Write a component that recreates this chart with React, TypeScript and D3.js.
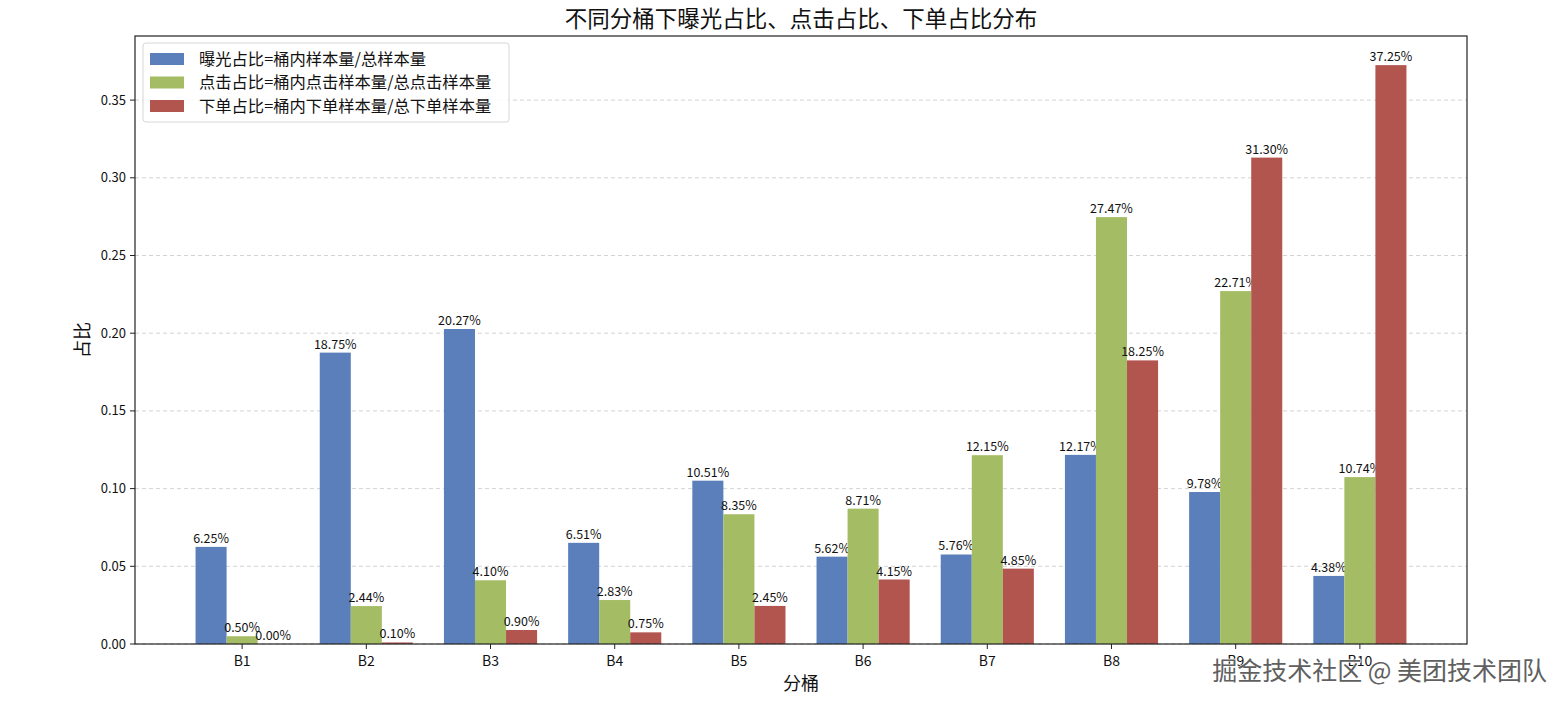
import React, { useEffect, useRef } from 'react';
import * as d3 from 'd3';

const buckets = ['B1', 'B2', 'B3', 'B4', 'B5', 'B6', 'B7', 'B8', 'B9', 'B10'];
const exposureShare = [0.0625, 0.1875, 0.2027, 0.0651, 0.1051, 0.0562, 0.0576, 0.1217, 0.0978, 0.0438];
const clickShare = [0.005, 0.0244, 0.041, 0.0283, 0.0835, 0.0871, 0.1215, 0.2747, 0.2271, 0.1074];
const orderShare = [0.0, 0.001, 0.009, 0.0075, 0.0245, 0.0415, 0.0485, 0.1825, 0.313, 0.3725];
const seriesNames = [
  '曝光占比=桶内样本量/总样本量',
  '点击占比=桶内点击样本量/总点击样本量',
  '下单占比=桶内下单样本量/总下单样本量',
];
const yTicks = [0, 0.05, 0.1, 0.15, 0.2, 0.25, 0.3, 0.35];

const FONT = '"Noto Sans CJK SC", "DejaVu Sans", sans-serif';

const App = () => {
  const ref = useRef<SVGSVGElement>(null);

  useEffect(() => {
    if (!ref.current) return;
    const svg = d3.select(ref.current);
    svg.selectAll('*').remove();

    const W = 1568;
    const H = 706;
    const left = 135, right = 1467, top = 36, bottom = 644;
    const barW = 0.25;
    const colors = ['#5b7fba', '#a4bd64', '#b3554f'];
    const series = [exposureShare, clickShare, orderShare];

    const x = d3.scaleLinear().domain([-0.8625, buckets.length - 1 + 0.8625]).range([left, right]);
    const y = d3.scaleLinear().domain([0, 0.39125]).range([bottom, top]);

    svg.append('rect').attr('width', W).attr('height', H).attr('fill', '#fff');

    // grid
    svg.append('g')
      .selectAll('line')
      .data(yTicks)
      .enter()
      .append('line')
      .attr('x1', left)
      .attr('x2', right)
      .attr('y1', d => y(d))
      .attr('y2', d => y(d))
      .attr('stroke', '#c8c8c8')
      .attr('stroke-width', 0.8)
      .attr('stroke-dasharray', '4,3');

    // bars + value labels
    series.forEach((vals, si) => {
      const off = (si - 1) * barW;
      const g = svg.append('g');
      g.selectAll('rect')
        .data(vals)
        .enter()
        .append('rect')
        .attr('x', (d, i) => x(i + off - barW / 2))
        .attr('width', x(barW) - x(0))
        .attr('y', d => y(d))
        .attr('height', d => y(0) - y(d))
        .attr('fill', colors[si]);
      g.selectAll('text')
        .data(vals)
        .enter()
        .append('text')
        .attr('x', (d, i) => x(i + off))
        .attr('y', d => y(d) - 4)
        .attr('text-anchor', 'middle')
        .style('font-family', FONT)
        .style('font-size', '12.5px')
        .attr('fill', '#111')
        .text(d => `${(d * 100).toFixed(2)}%`);
    });

    // axes frame
    svg.append('rect')
      .attr('x', left)
      .attr('y', top)
      .attr('width', right - left)
      .attr('height', bottom - top)
      .attr('fill', 'none')
      .attr('stroke', '#222')
      .attr('stroke-width', 1.2);

    // y ticks
    const yt = svg.append('g');
    yTicks.forEach(t => {
      yt.append('line')
        .attr('x1', left - 5).attr('x2', left)
        .attr('y1', y(t)).attr('y2', y(t))
        .attr('stroke', '#222');
      yt.append('text')
        .attr('x', left - 9)
        .attr('y', y(t))
        .attr('dy', '0.35em')
        .attr('text-anchor', 'end')
        .style('font-family', FONT)
        .style('font-size', '13px')
        .attr('fill', '#111')
        .text(t.toFixed(2));
    });

    // x ticks
    const xt = svg.append('g');
    buckets.forEach((b, i) => {
      xt.append('line')
        .attr('x1', x(i)).attr('x2', x(i))
        .attr('y1', bottom).attr('y2', bottom + 5)
        .attr('stroke', '#222');
      xt.append('text')
        .attr('x', x(i))
        .attr('y', bottom + 22)
        .attr('text-anchor', 'middle')
        .style('font-family', FONT)
        .style('font-size', '14px')
        .attr('fill', '#111')
        .text(b);
    });

    // title and axis labels
    svg.append('text')
      .attr('x', (left + right) / 2)
      .attr('y', 27)
      .attr('text-anchor', 'middle')
      .style('font-family', FONT)
      .style('font-size', '22.5px')
      .attr('fill', '#111')
      .text('不同分桶下曝光占比、点击占比、下单占比分布');

    svg.append('text')
      .attr('x', (left + right) / 2)
      .attr('y', 690)
      .attr('text-anchor', 'middle')
      .style('font-family', FONT)
      .style('font-size', '18px')
      .attr('fill', '#111')
      .text('分桶');

    svg.append('text')
      .attr('transform', `translate(89,${(top + bottom) / 2}) rotate(-90)`)
      .attr('text-anchor', 'middle')
      .style('font-family', FONT)
      .style('font-size', '18px')
      .attr('fill', '#111')
      .text('占比');

    // legend
    const lg = svg.append('g');
    lg.append('rect')
      .attr('x', 143).attr('y', 43)
      .attr('width', 366).attr('height', 79)
      .attr('rx', 3)
      .attr('fill', '#fff')
      .attr('fill-opacity', 0.85)
      .attr('stroke', '#d6d6d6');
    seriesNames.forEach((name, i) => {
      const cy = 59 + i * 23.5;
      lg.append('rect')
        .attr('x', 150).attr('y', cy - 6)
        .attr('width', 34).attr('height', 12)
        .attr('fill', colors[i]);
      lg.append('text')
        .attr('x', 199).attr('y', cy)
        .attr('dy', '0.36em')
        .style('font-family', FONT)
        .style('font-size', '16.3px')
        .attr('fill', '#111')
        .text(name);
    });

    // platform watermark
    svg.append('text')
      .attr('x', 1547)
      .attr('y', 680)
      .attr('text-anchor', 'end')
      .style('font-family', FONT)
      .style('font-size', '25px')
      .attr('fill', '#606060')
      .attr('stroke', '#fff')
      .attr('stroke-width', 1.2)
      .attr('paint-order', 'stroke')
      .text('掘金技术社区 @ 美团技术团队');
  }, []);

  return (
    <div style={{ position: 'absolute', left: 0, top: 0 }}>
      <svg ref={ref} width={1568} height={706} style={{ display: 'block' }} />
    </div>
  );
};

export default App;
